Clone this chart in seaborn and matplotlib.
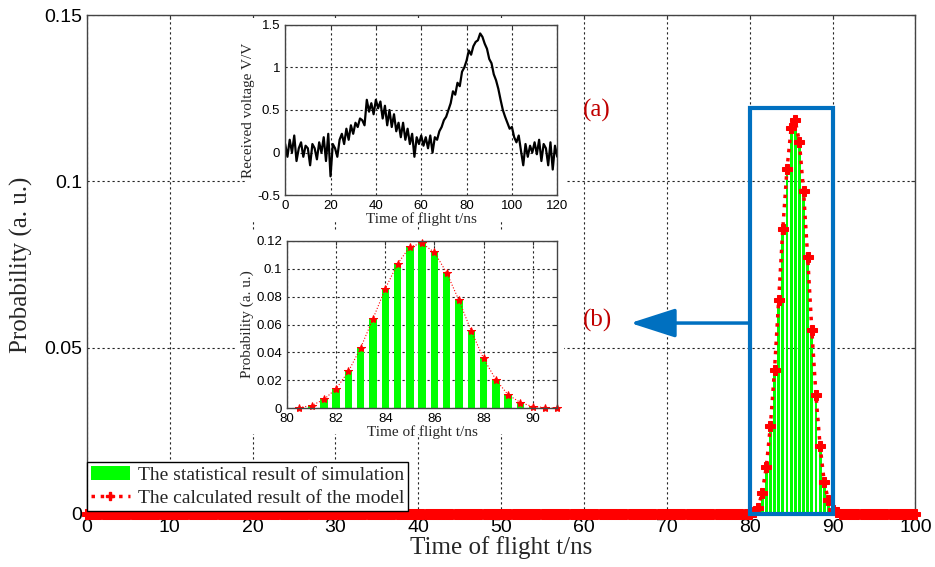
import numpy as np
import pandas as pd
import matplotlib
matplotlib.use('Agg')
import matplotlib.pyplot as plt
import seaborn as sns
from matplotlib.patches import Rectangle, Patch
from matplotlib.lines import Line2D
from matplotlib.ticker import FuncFormatter, MultipleLocator

# histogram of time of flight around the return pulse (ns) -> probability
t_peak = [80.5, 81.0, 81.5, 82.0, 82.5, 83.0, 83.5, 84.0, 84.5, 85.0, 85.5,
          86.0, 86.5, 87.0, 87.5, 88.0, 88.5, 89.0, 89.5, 90.0, 90.5, 91.0]
prob_peak = [0.0005, 0.0019, 0.0063, 0.014, 0.0265, 0.0434, 0.0643, 0.0858, 0.1036, 0.1159, 0.1183,
             0.1118, 0.0971, 0.0773, 0.0554, 0.0357, 0.0205, 0.0096, 0.0041, 0.0012, 0.0005, 0.0]

# received waveform (inset a), one reading per ns
t_wave = list(range(0, 121))
v_wave = [0.10, -0.05, 0.15, 0.00, 0.20, -0.10, 0.05, 0.12, -0.05, 0.08, 0.05,
          -0.15, 0.10, 0.05, -0.08, 0.12, 0.00, 0.18, -0.10, 0.22, -0.28,
          0.10, 0.05, -0.05, 0.15, 0.22, 0.10, 0.28, 0.15, 0.32, 0.22,
          0.35, 0.30, 0.40, 0.38, 0.32, 0.62, 0.48, 0.58, 0.45, 0.62,
          0.52, 0.60, 0.40, 0.55, 0.32, 0.50, 0.30, 0.45, 0.25, 0.35,
          0.18, 0.35, 0.15, 0.28, 0.10, 0.22, -0.05, 0.18, 0.10, 0.20,
          0.08, 0.18, 0.05, 0.20, 0.00, 0.18, 0.15, 0.25, 0.30, 0.38,
          0.42, 0.50, 0.58, 0.72, 0.68, 0.82, 0.78, 0.95, 1.00, 1.08,
          1.20, 1.15, 1.25, 1.30, 1.32, 1.40, 1.36, 1.28, 1.22, 1.10,
          1.05, 0.92, 0.85, 0.75, 0.62, 0.50, 0.42, 0.35, 0.28, 0.30,
          0.18, 0.12, 0.20, 0.02, -0.15, 0.10, -0.05, 0.08, 0.00, 0.12,
          -0.02, 0.15, -0.10, 0.10, 0.05, -0.15, 0.12, -0.20, 0.08, -0.05]

# model curve over the full window, zero outside the pulse
t_all = np.arange(0, 100.5, 0.5)
p_all = pd.Series(prob_peak, index=t_peak).reindex(t_all, fill_value=0.0).values

legend_labels = ['The statistical result of simulation', 'The calculated result of the model']

sns.set_style('white')
plt.rcParams['font.family'] = ['Liberation Sans', 'DejaVu Sans']
serif = ['Liberation Serif', 'DejaVu Serif']

GREEN = '#00ff00'
RED = '#ff0000'
BLUE = '#0070c0'
DARKRED = '#c00000'
grid_kw = dict(color='#222222', ls=(0, (2, 2.5)), lw=0.8)
fmt = FuncFormatter(lambda v, p: '%g' % round(v, 6))


def style_axes(a, size):
    a.tick_params(direction='in', top=True, right=True, labelsize=size,
                  length=3, colors='#333333', labelcolor='k')
    for s in a.spines.values():
        s.set_color('#444444')
        s.set_linewidth(1)
    a.grid(True, **grid_kw)
    a.set_axisbelow(True)
    a.xaxis.set_major_formatter(fmt)
    a.yaxis.set_major_formatter(fmt)


fig = plt.figure(figsize=(9.35, 5.67), dpi=100)

# main axes
ax = fig.add_axes([0.093, 0.0935, 0.886, 0.880])
sns.barplot(x=t_peak, y=prob_peak, native_scale=True, width=0.7, color=GREEN,
            saturation=1, edgecolor='none', ax=ax)
sns.lineplot(x=t_all, y=p_all, color=RED, ls=':', lw=2.5, marker='P', markersize=7,
             markeredgecolor=RED, clip_on=False, zorder=4, ax=ax)
ax.set_xlim(0, 100)
ax.set_ylim(0, 0.15)
ax.xaxis.set_major_locator(MultipleLocator(10))
ax.yaxis.set_major_locator(MultipleLocator(0.05))
style_axes(ax, 14)
ax.set_xlabel('Time of flight t/ns', family=serif, fontsize=18, labelpad=0)
ax.set_ylabel('Probability (a. u.)', family=serif, fontsize=18, labelpad=8)

# zoom box and arrow
ax.add_patch(Rectangle((80, 0), 10, 0.122, fill=False, ec=BLUE, lw=3, zorder=6, clip_on=False))
ax.annotate('', xy=(65.6, 0.0574), xytext=(80, 0.0574),
            arrowprops=dict(arrowstyle='-|>,head_length=2.8,head_width=0.9', color=BLUE,
                            lw=2.5, shrinkA=0, shrinkB=0, mutation_scale=10))
ax.text(59.9, 0.1214, '(a)', color=DARKRED, fontsize=18, family=serif, va='center')
ax.text(59.9, 0.0583, '(b)', color=DARKRED, fontsize=18, family=serif, va='center')

handles = [Patch(fc=GREEN, ec='none'),
           Line2D([], [], color=RED, ls=':', lw=2.5, marker='P', ms=6)]
leg = ax.legend(handles, legend_labels, loc='lower left', bbox_to_anchor=(0, 0.006),
                borderaxespad=0, prop={'family': serif, 'size': 14}, frameon=True,
                fancybox=False, edgecolor='k', framealpha=1, handlelength=2,
                handletextpad=0.4, borderpad=0.2, labelspacing=0.3)
leg.get_frame().set_linewidth(1)
leg.set_zorder(7)

# white backing for the pasted insets
fig.add_artist(Rectangle((0.263, 0.6085), 0.342, 0.360, fc='white', ec='none', zorder=1))
fig.add_artist(Rectangle((0.252, 0.2346), 0.351, 0.356, fc='white', ec='none', zorder=1))

# inset (a): received waveform
axa = fig.add_axes([0.305, 0.656, 0.291, 0.300])
axa.set_zorder(2)
sns.lineplot(x=t_wave, y=v_wave, color='k', lw=1.6, ax=axa)
axa.set_xlim(0, 120)
axa.set_ylim(-0.5, 1.5)
axa.xaxis.set_major_locator(MultipleLocator(20))
axa.yaxis.set_major_locator(MultipleLocator(0.5))
style_axes(axa, 9.5)
axa.set_xlabel('Time of flight t/ns', family=serif, fontsize=11, labelpad=0)
axa.set_ylabel('Received voltage V/V', family=serif, fontsize=11, labelpad=2)

# inset (b): zoom on the histogram
axb = fig.add_axes([0.307, 0.280, 0.289, 0.295])
axb.set_zorder(2)
sns.barplot(x=t_peak, y=prob_peak, native_scale=True, width=0.6, color=GREEN,
            saturation=1, edgecolor='none', ax=axb)
sns.lineplot(x=t_peak, y=prob_peak, color=RED, ls=':', lw=0.8, marker='*', markersize=6,
             markeredgecolor=RED, clip_on=False, ax=axb)
axb.set_xlim(80, 91)
axb.set_ylim(0, 0.12)
axb.xaxis.set_major_locator(MultipleLocator(2))
axb.yaxis.set_major_locator(MultipleLocator(0.02))
style_axes(axb, 9.5)
axb.set_xlabel('Time of flight t/ns', family=serif, fontsize=11, labelpad=0)
axb.set_ylabel('Probability (a. u.)', family=serif, fontsize=11, labelpad=2)

fig.savefig('out.png', dpi=100, facecolor='white')
